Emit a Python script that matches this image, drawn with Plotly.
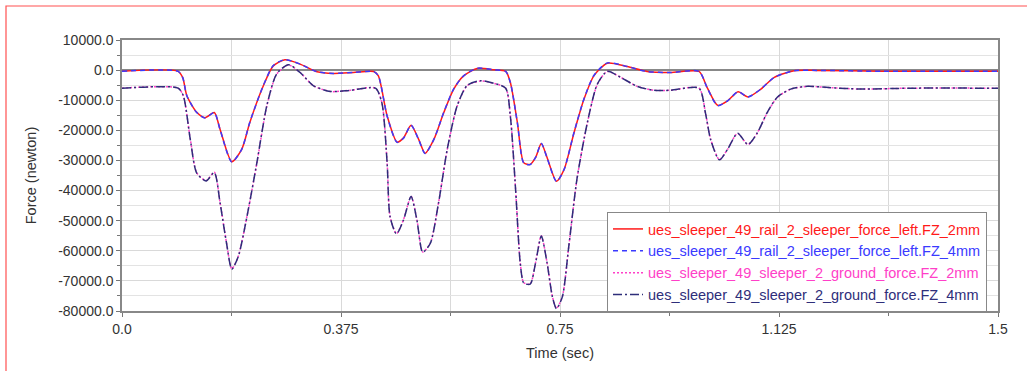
import plotly.graph_objects as go

# ---- data ----
t_rail = [0.0, 0.096, 0.104, 0.111, 0.128, 0.142, 0.158, 0.168, 0.188, 0.205, 0.219, 0.242, 0.259,
          0.279, 0.305, 0.334, 0.362, 0.396, 0.431, 0.439, 0.454, 0.471, 0.482, 0.495, 0.508,
          0.519, 0.534, 0.551, 0.568, 0.585, 0.608, 0.637, 0.657, 0.665, 0.677, 0.688, 0.699,
          0.708, 0.718, 0.728, 0.744, 0.757, 0.774, 0.791, 0.808, 0.831, 0.865, 0.899, 0.939,
          0.988, 1.002, 1.020, 1.037, 1.055, 1.072, 1.094, 1.117, 1.151, 1.190, 1.300, 1.400, 1.5]
rail_2mm = [-400, -400, -2500, -8500, -14000, -15800, -14100, -19700, -30400, -26300, -17300, -5200, 1400,
            3400, 2000, -550, -1100, -800, -450, -1900, -15200, -23900, -22500, -18300, -23000,
            -27600, -23000, -14100, -6300, -1900, 550, 100, -450, -4100, -17400, -30800, -31300,
            -29100, -24400, -29100, -36900, -33000, -20800, -9700, -1900, 2300, 1200, -450, -800,
            -450, -5800, -11700, -10200, -7200, -8900, -6300, -2400, -200, -100, -400, -400, -400]
rail_4mm = [-400, -400, -2500, -8500, -14100, -15900, -14100, -19800, -30500, -26300, -17200, -5100, 1500,
            3500, 2000, -550, -1100, -800, -450, -1900, -15300, -24000, -22600, -18300, -23100,
            -27700, -23000, -14000, -6200, -1900, 600, 100, -450, -4100, -17500, -30900, -31400,
            -29100, -24400, -29200, -37000, -33000, -20700, -9600, -1800, 2400, 1200, -450, -800,
            -450, -5900, -11800, -10200, -7200, -8900, -6300, -2400, -200, -100, -400, -400, -400]

t_ground = [0.0, 0.096, 0.105, 0.117, 0.128, 0.144, 0.158, 0.168, 0.179, 0.188, 0.199, 0.214, 0.231,
            0.248, 0.265, 0.285, 0.305, 0.328, 0.357, 0.391, 0.434, 0.445, 0.454, 0.459, 0.470,
            0.482, 0.495, 0.505, 0.515, 0.528, 0.542, 0.557, 0.574, 0.591, 0.614, 0.637, 0.657,
            0.665, 0.674, 0.682, 0.688, 0.699, 0.708, 0.718, 0.728, 0.737, 0.744, 0.754, 0.765,
            0.779, 0.797, 0.814, 0.831, 0.854, 0.882, 0.911, 0.939, 0.988, 0.999, 1.008, 1.023,
            1.037, 1.054, 1.072, 1.088, 1.105, 1.122, 1.145, 1.174, 1.210, 1.265, 1.350, 1.5]
ground_2mm = [-6000, -6000, -8500, -23000, -34100, -36700, -33900, -44100, -57400, -66000, -61900, -48600, -30800,
              -11900, -1300, 1700, -800, -5200, -7100, -6700, -6000, -10800, -30800, -48600, -54300,
              -49700, -41900, -49700, -60400, -57400, -44100, -26300, -11900, -5200, -3600, -4400, -6000,
              -15200, -39700, -64100, -70600, -71000, -64100, -55000, -64100, -75200, -79100, -75200, -58600,
              -36300, -17400, -4700, -450, -2400, -5400, -6700, -6700, -6000, -14100, -23000, -29700,
              -26300, -21000, -24700, -20800, -14100, -9100, -6300, -5400, -5800, -6300, -6000, -6000]
ground_4mm = [-6000, -6000, -8500, -23100, -34200, -36800, -34000, -44200, -57500, -66100, -62000, -48600, -30700,
              -11800, -1200, 1800, -800, -5200, -7100, -6700, -6000, -10900, -30900, -48700, -54400,
              -49800, -42000, -49800, -60500, -57500, -44100, -26200, -11800, -5100, -3500, -4400, -6000,
              -15300, -39800, -64200, -70700, -71100, -64200, -55100, -64200, -75300, -79200, -75300, -58600,
              -36200, -17300, -4600, -400, -2400, -5400, -6700, -6700, -6000, -14200, -23100, -29800,
              -26300, -21000, -24700, -20800, -14000, -9000, -6300, -5400, -5800, -6300, -6000, -6000]

names = ["ues_sleeper_49_rail_2_sleeper_force_left.FZ_2mm",
         "ues_sleeper_49_rail_2_sleeper_force_left.FZ_4mm",
         "ues_sleeper_49_sleeper_2_ground_force.FZ_2mm",
         "ues_sleeper_49_sleeper_2_ground_force.FZ_4mm"]
colors = ["#FF1A1A", "#3A3AFF", "#FF3FC8", "#2E2E7A"]
dashes = ["solid", "5px,4px", "2px,2px", "9px,3px,2px,3px"]

x_tickvals = [0.0, 0.375, 0.75, 1.125, 1.5]
x_ticktext = ["0.0", "0.375", "0.75", "1.125", "1.5"]
y_tickvals = [10000, 0, -10000, -20000, -30000, -40000, -50000, -60000, -70000, -80000]
y_ticktext = ["%.1f" % v for v in y_tickvals]

series = [(t_rail, rail_2mm), (t_rail, rail_4mm), (t_ground, ground_2mm), (t_ground, ground_4mm)]

fig = go.Figure()
for (tx, ty), nm, c, d in zip(series, names, colors, dashes):
    fig.add_trace(go.Scatter(
        x=tx, y=ty, mode="lines", name='<span style="color:%s">%s</span>' % (c, nm),
        line=dict(color=c, width=1.5, dash=d, shape="spline", smoothing=0.7)))

W, H = 1027, 371
L, R, T, B = 122, 29, 40, 60
pw, ph = W - L - R, H - T - B

def px(xp):
    return (xp - L) / pw

def py(yp):
    return (H - B - yp) / ph

fig.update_layout(
    width=W, height=H,
    margin=dict(l=L, r=R, t=T, b=B),
    paper_bgcolor="white", plot_bgcolor="white",
    font=dict(family="Liberation Sans, Arial, sans-serif", size=14, color="#333333"),
    showlegend=True,
    legend=dict(x=px(607), y=py(262), xanchor="left", yanchor="middle",
                bgcolor="white", bordercolor="#888888", borderwidth=1,
                font=dict(size=14.5), tracegroupgap=0, itemwidth=30),
    shapes=[dict(type="path", xref="paper", yref="paper",
                 path="M %f,%f L %f,%f L %f,%f" % (px(6), py(372), px(6), py(6), px(1030), py(6)),
                 line=dict(color="#FF5050", width=1.2))],
)
fig.update_xaxes(range=[0, 1.5], tickvals=x_tickvals, ticktext=x_ticktext,
                 tickfont=dict(size=14),
                 showgrid=True, gridcolor="#D9D9D9", gridwidth=1,
                 minor=dict(dtick=0.1875, tick0=0, showgrid=True, gridcolor="#D9D9D9",
                            ticks="outside", ticklen=3, tickcolor="#777777"),
                 ticks="outside", ticklen=4, tickcolor="#777777",
                 showline=True, linecolor="#888888", linewidth=1.5, mirror=True,
                 zeroline=False,
                 title=dict(text="Time (sec)", font=dict(size=14.5), standoff=12))
fig.update_yaxes(range=[-80000, 10000], tickvals=y_tickvals, ticktext=y_ticktext,
                 tickfont=dict(size=14),
                 showgrid=True, gridcolor="#D9D9D9", gridwidth=1,
                 minor=dict(dtick=5000, tick0=0, showgrid=True, gridcolor="#E3E3E3",
                            ticks="outside", ticklen=3, tickcolor="#777777"),
                 ticks="outside", ticklen=4, tickcolor="#777777",
                 showline=True, linecolor="#888888", linewidth=1.5, mirror=True,
                 zeroline=True, zerolinecolor="#888888", zerolinewidth=1.5,
                 title=dict(text="Force (newton)", font=dict(size=14.5), standoff=18))

fig.write_html("out.html")
